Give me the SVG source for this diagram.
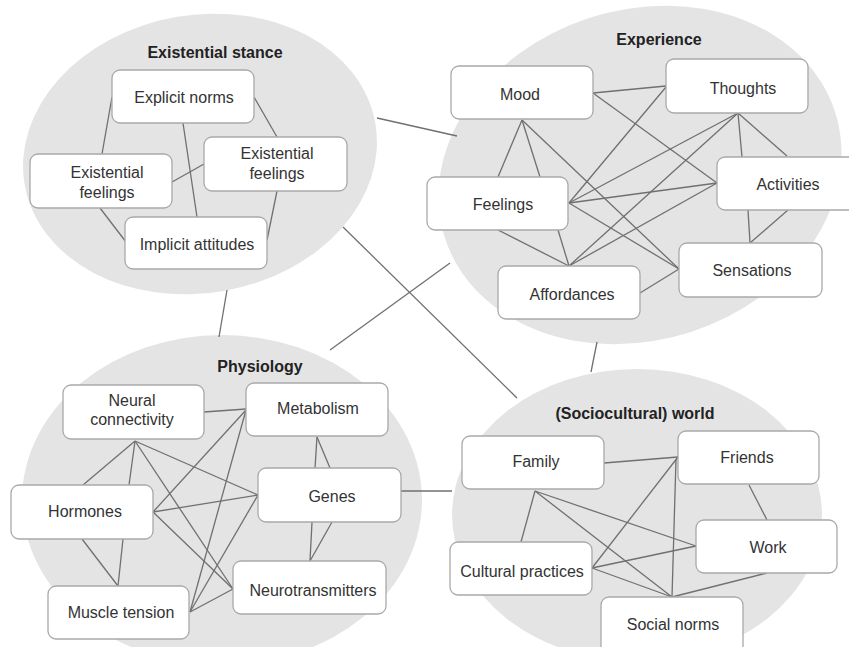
<svg xmlns="http://www.w3.org/2000/svg" width="849" height="647" viewBox="0 0 849 647">
  <style>
    .domain { fill: #e4e4e4; stroke: none; }
    .box { fill: #ffffff; stroke: #a9a9a9; stroke-width: 1.3; }
    .label { font-family: "Liberation Sans", Arial, sans-serif; font-size: 16px; fill: #333333; text-anchor: middle; }
    .title { font-family: "Liberation Sans", Arial, sans-serif; font-size: 16px; font-weight: bold; fill: #222222; text-anchor: middle; }
    .links line { stroke: #707070; stroke-width: 1.3; fill: none; }
  </style>
  <rect width="849" height="647" fill="#ffffff"/>

  <!-- domain backgrounds -->
  <g id="domains">
    <ellipse class="domain" cx="200" cy="154" rx="178" ry="139" transform="rotate(-10 200 154)"/>
    <ellipse class="domain" cx="640" cy="175" rx="205" ry="165" transform="rotate(-18 640 175)"/>
    <ellipse class="domain" cx="222" cy="500" rx="200" ry="165"/>
    <ellipse class="domain" cx="637" cy="515" rx="185" ry="146"/>
  </g>

  <!-- connectors -->
  <g class="links" id="connectors">
    <!-- between domains -->
    <line x1="377" y1="118" x2="457" y2="136"/>
    <line x1="343" y1="227" x2="517" y2="398"/>
    <line x1="227" y1="290" x2="219" y2="337"/>
    <line x1="450" y1="263" x2="330" y2="350"/>
    <line x1="401" y1="491" x2="452" y2="491"/>
    <line x1="597" y1="342" x2="591" y2="372"/>

    <!-- existential stance -->
    <line x1="112" y1="97" x2="102" y2="154"/>
    <line x1="254" y1="97" x2="277" y2="137"/>
    <line x1="183" y1="123" x2="197" y2="217"/>
    <line x1="172" y1="182" x2="204" y2="164"/>
    <line x1="100" y1="208" x2="126" y2="242"/>
    <line x1="277" y1="191" x2="267" y2="240"/>

    <!-- experience -->
    <line x1="593" y1="93" x2="666" y2="86"/>
    <line x1="593" y1="93" x2="717" y2="183"/>
    <line x1="522" y1="120" x2="498" y2="177"/>
    <line x1="522" y1="120" x2="540" y2="177"/>
    <line x1="522" y1="120" x2="679" y2="269"/>
    <line x1="666" y1="87" x2="569" y2="203"/>
    <line x1="569" y1="203" x2="738" y2="113"/>
    <line x1="569" y1="203" x2="717" y2="183"/>
    <line x1="569" y1="203" x2="679" y2="269"/>
    <line x1="498" y1="230" x2="569" y2="266"/>
    <line x1="558" y1="230" x2="569" y2="266"/>
    <line x1="569" y1="266" x2="738" y2="113"/>
    <line x1="569" y1="266" x2="717" y2="183"/>
    <line x1="738" y1="113" x2="742" y2="157"/>
    <line x1="738" y1="113" x2="787" y2="156"/>
    <line x1="748" y1="210" x2="750" y2="243"/>
    <line x1="788" y1="210" x2="750" y2="243"/>
    <line x1="640" y1="293" x2="679" y2="269"/>

    <!-- physiology -->
    <line x1="204" y1="412" x2="246" y2="409"/>
    <line x1="135" y1="441" x2="83" y2="485"/>
    <line x1="135" y1="441" x2="129" y2="485"/>
    <line x1="135" y1="441" x2="258" y2="495"/>
    <line x1="135" y1="441" x2="233" y2="589"/>
    <line x1="153" y1="512" x2="246" y2="410"/>
    <line x1="153" y1="512" x2="258" y2="495"/>
    <line x1="153" y1="512" x2="233" y2="589"/>
    <line x1="82" y1="539" x2="118" y2="586"/>
    <line x1="123" y1="539" x2="118" y2="586"/>
    <line x1="190" y1="612" x2="246" y2="410"/>
    <line x1="190" y1="612" x2="258" y2="495"/>
    <line x1="190" y1="612" x2="233" y2="589"/>
    <line x1="317" y1="437" x2="315" y2="468"/>
    <line x1="317" y1="437" x2="330" y2="468"/>
    <line x1="312" y1="522" x2="310" y2="561"/>
    <line x1="332" y1="522" x2="310" y2="561"/>

    <!-- sociocultural world -->
    <line x1="604" y1="463" x2="678" y2="457"/>
    <line x1="535" y1="491" x2="521" y2="542"/>
    <line x1="535" y1="491" x2="696" y2="546"/>
    <line x1="535" y1="491" x2="672" y2="597"/>
    <line x1="592" y1="568" x2="678" y2="457"/>
    <line x1="592" y1="568" x2="696" y2="546"/>
    <line x1="592" y1="568" x2="672" y2="597"/>
    <line x1="676" y1="459" x2="672" y2="597"/>
    <line x1="749" y1="485" x2="767" y2="520"/>
    <line x1="767" y1="573" x2="672" y2="597"/>
  </g>

  <!-- existential stance -->
  <text class="title" x="215" y="58">Existential stance</text>
  <g id="explicit-norms">
    <rect class="box" x="112" y="70" width="142" height="53" rx="8"/>
    <text class="label" x="184" y="103">Explicit norms</text>
  </g>
  <g id="existential-feelings-left">
    <rect class="box" x="30" y="154" width="142" height="54" rx="8"/>
    <text class="label" x="107" y="178">Existential</text>
    <text class="label" x="107" y="198">feelings</text>
  </g>
  <g id="existential-feelings-right">
    <rect class="box" x="204" y="137" width="143" height="54" rx="8"/>
    <text class="label" x="277" y="159">Existential</text>
    <text class="label" x="277" y="179">feelings</text>
  </g>
  <g id="implicit-attitudes">
    <rect class="box" x="125" y="217" width="142" height="52" rx="8"/>
    <text class="label" x="197" y="250">Implicit attitudes</text>
  </g>

  <!-- experience -->
  <text class="title" x="659" y="45">Experience</text>
  <g id="mood">
    <rect class="box" x="451" y="66" width="142" height="53" rx="8"/>
    <text class="label" x="520" y="100">Mood</text>
  </g>
  <g id="thoughts">
    <rect class="box" x="666" y="59" width="142" height="54" rx="8"/>
    <text class="label" x="743" y="94">Thoughts</text>
  </g>
  <g id="activities">
    <rect class="box" x="717" y="157" width="142" height="53" rx="8"/>
    <text class="label" x="788" y="190">Activities</text>
  </g>
  <g id="feelings">
    <rect class="box" x="427" y="177" width="141" height="53" rx="8"/>
    <text class="label" x="503" y="210">Feelings</text>
  </g>
  <g id="sensations">
    <rect class="box" x="679" y="243" width="143" height="54" rx="8"/>
    <text class="label" x="752" y="276">Sensations</text>
  </g>
  <g id="affordances">
    <rect class="box" x="498" y="266" width="142" height="53" rx="8"/>
    <text class="label" x="572" y="300">Affordances</text>
  </g>

  <!-- physiology -->
  <text class="title" x="260" y="372">Physiology</text>
  <g id="neural-connectivity">
    <rect class="box" x="63" y="385" width="141" height="54" rx="8"/>
    <text class="label" x="132" y="406">Neural</text>
    <text class="label" x="132" y="425">connectivity</text>
  </g>
  <g id="metabolism">
    <rect class="box" x="246" y="383" width="142" height="53" rx="8"/>
    <text class="label" x="318" y="414">Metabolism</text>
  </g>
  <g id="hormones">
    <rect class="box" x="11" y="485" width="142" height="54" rx="8"/>
    <text class="label" x="85" y="517">Hormones</text>
  </g>
  <g id="genes">
    <rect class="box" x="258" y="468" width="143" height="54" rx="8"/>
    <text class="label" x="332" y="502">Genes</text>
  </g>
  <g id="muscle-tension">
    <rect class="box" x="48" y="586" width="141" height="53" rx="8"/>
    <text class="label" x="121" y="618">Muscle tension</text>
  </g>
  <g id="neurotransmitters">
    <rect class="box" x="233" y="561" width="153" height="53" rx="8"/>
    <text class="label" x="313" y="596">Neurotransmitters</text>
  </g>

  <!-- sociocultural world -->
  <text class="title" x="635" y="419">(Sociocultural) world</text>
  <g id="family">
    <rect class="box" x="462" y="436" width="142" height="53" rx="8"/>
    <text class="label" x="536" y="467">Family</text>
  </g>
  <g id="friends">
    <rect class="box" x="678" y="431" width="141" height="53" rx="8"/>
    <text class="label" x="747" y="463">Friends</text>
  </g>
  <g id="work">
    <rect class="box" x="696" y="520" width="141" height="53" rx="8"/>
    <text class="label" x="768" y="553">Work</text>
  </g>
  <g id="cultural-practices">
    <rect class="box" x="450" y="542" width="142" height="53" rx="8"/>
    <text class="label" x="522" y="577">Cultural practices</text>
  </g>
  <g id="social-norms">
    <rect class="box" x="601" y="597" width="142" height="60" rx="8"/>
    <text class="label" x="673" y="630">Social norms</text>
  </g>
</svg>
